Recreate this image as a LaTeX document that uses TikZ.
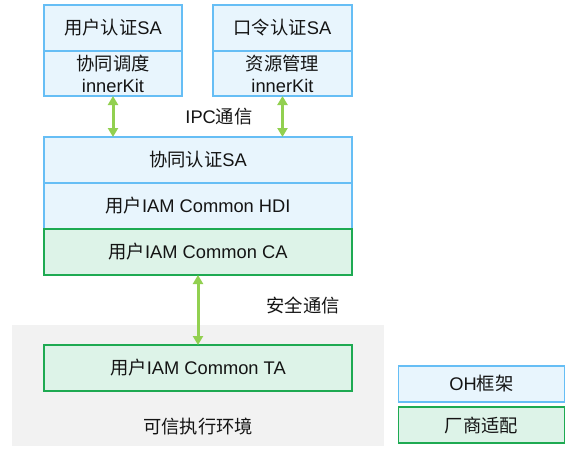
\documentclass[tikz,border=0pt]{standalone}
\usepackage{fontspec}
\setmainfont{Liberation Sans}
\newfontfamily\cjk{Noto Sans CJK SC}
\newcommand{\zh}[1]{{\cjk #1}}
\usetikzlibrary{arrows.meta}
\definecolor{bluefill}{RGB}{232,245,253}
\definecolor{blueline}{RGB}{102,190,245}
\definecolor{greenfill}{RGB}{221,243,232}
\definecolor{greenline}{RGB}{30,170,82}
\definecolor{arrowgreen}{RGB}{146,208,80}
\definecolor{grayfill}{RGB}{242,242,242}
\definecolor{txt}{RGB}{20,20,20}
\tikzset{
  box/.style={rectangle, inner sep=0pt, outer sep=0pt, line width=1.1pt, align=center, text=txt,
    font=\fontsize{18.3}{22}\selectfont},
  bluebox/.style={box, fill=bluefill, draw=blueline},
  greenbox/.style={box, fill=greenfill, draw=greenline},
  label/.style={inner sep=0pt, text=txt, font=\fontsize{18.3}{22}\selectfont},
  link/.style={draw=arrowgreen, line width=3pt,
    {Triangle[width=10pt,length=9pt]}-{Triangle[width=10pt,length=9pt]}}
}
\begin{document}
\begin{tikzpicture}[x=1pt,y=-1pt]
\useasboundingbox (0,0) rectangle (573,448);
% trusted execution environment background
\fill[grayfill] (12,325) rectangle (384,446);
% top-left
\node[bluebox, minimum width=138pt, minimum height=46pt] (ua) at (113,28) {\zh{用户认证}SA};
\node[bluebox, minimum width=138pt, minimum height=45pt] (ua2) at (113,73.5) {\zh{协同调度}\\innerKit};
% top-right
\node[bluebox, minimum width=139pt, minimum height=46pt] (pa) at (282.5,28) {\zh{口令认证}SA};
\node[bluebox, minimum width=139pt, minimum height=45pt] (pa2) at (282.5,73.5) {\zh{资源管理}\\innerKit};
% middle stack
\node[bluebox, minimum width=308pt, minimum height=46pt] (sa) at (198,160) {\zh{协同认证}SA};
\node[bluebox, minimum width=308pt, minimum height=46pt] (hdi) at (198,206) {\zh{用户}IAM Common HDI};
\node[greenbox, minimum width=308pt, minimum height=46pt] (ca) at (198,252) {\zh{用户}IAM Common CA};
% TA
\node[greenbox, minimum width=308pt, minimum height=46pt] (ta) at (198,368) {\zh{用户}IAM Common TA};
\node[label] (tee) at (198,427) {\zh{可信执行环境}};
% legend
\node[bluebox, minimum width=166pt, minimum height=36pt] (oh) at (481.5,384) {OH\zh{框架}};
\node[greenbox, minimum width=166pt, minimum height=36pt] (vd) at (481.5,425) {\zh{厂商适配}};
% labels
\node[label] (ipc) at (219,117) {IPC\zh{通信}};
\node[label] (sec) at (303,305) {\zh{安全通信}};
% connectors
\draw[link] (ua2.south) -- (ua2.south |- sa.north);
\draw[link] (pa2.south) -- (pa2.south |- sa.north);
\draw[link] (ca.south) -- (ta.north);
\end{tikzpicture}
\end{document}
